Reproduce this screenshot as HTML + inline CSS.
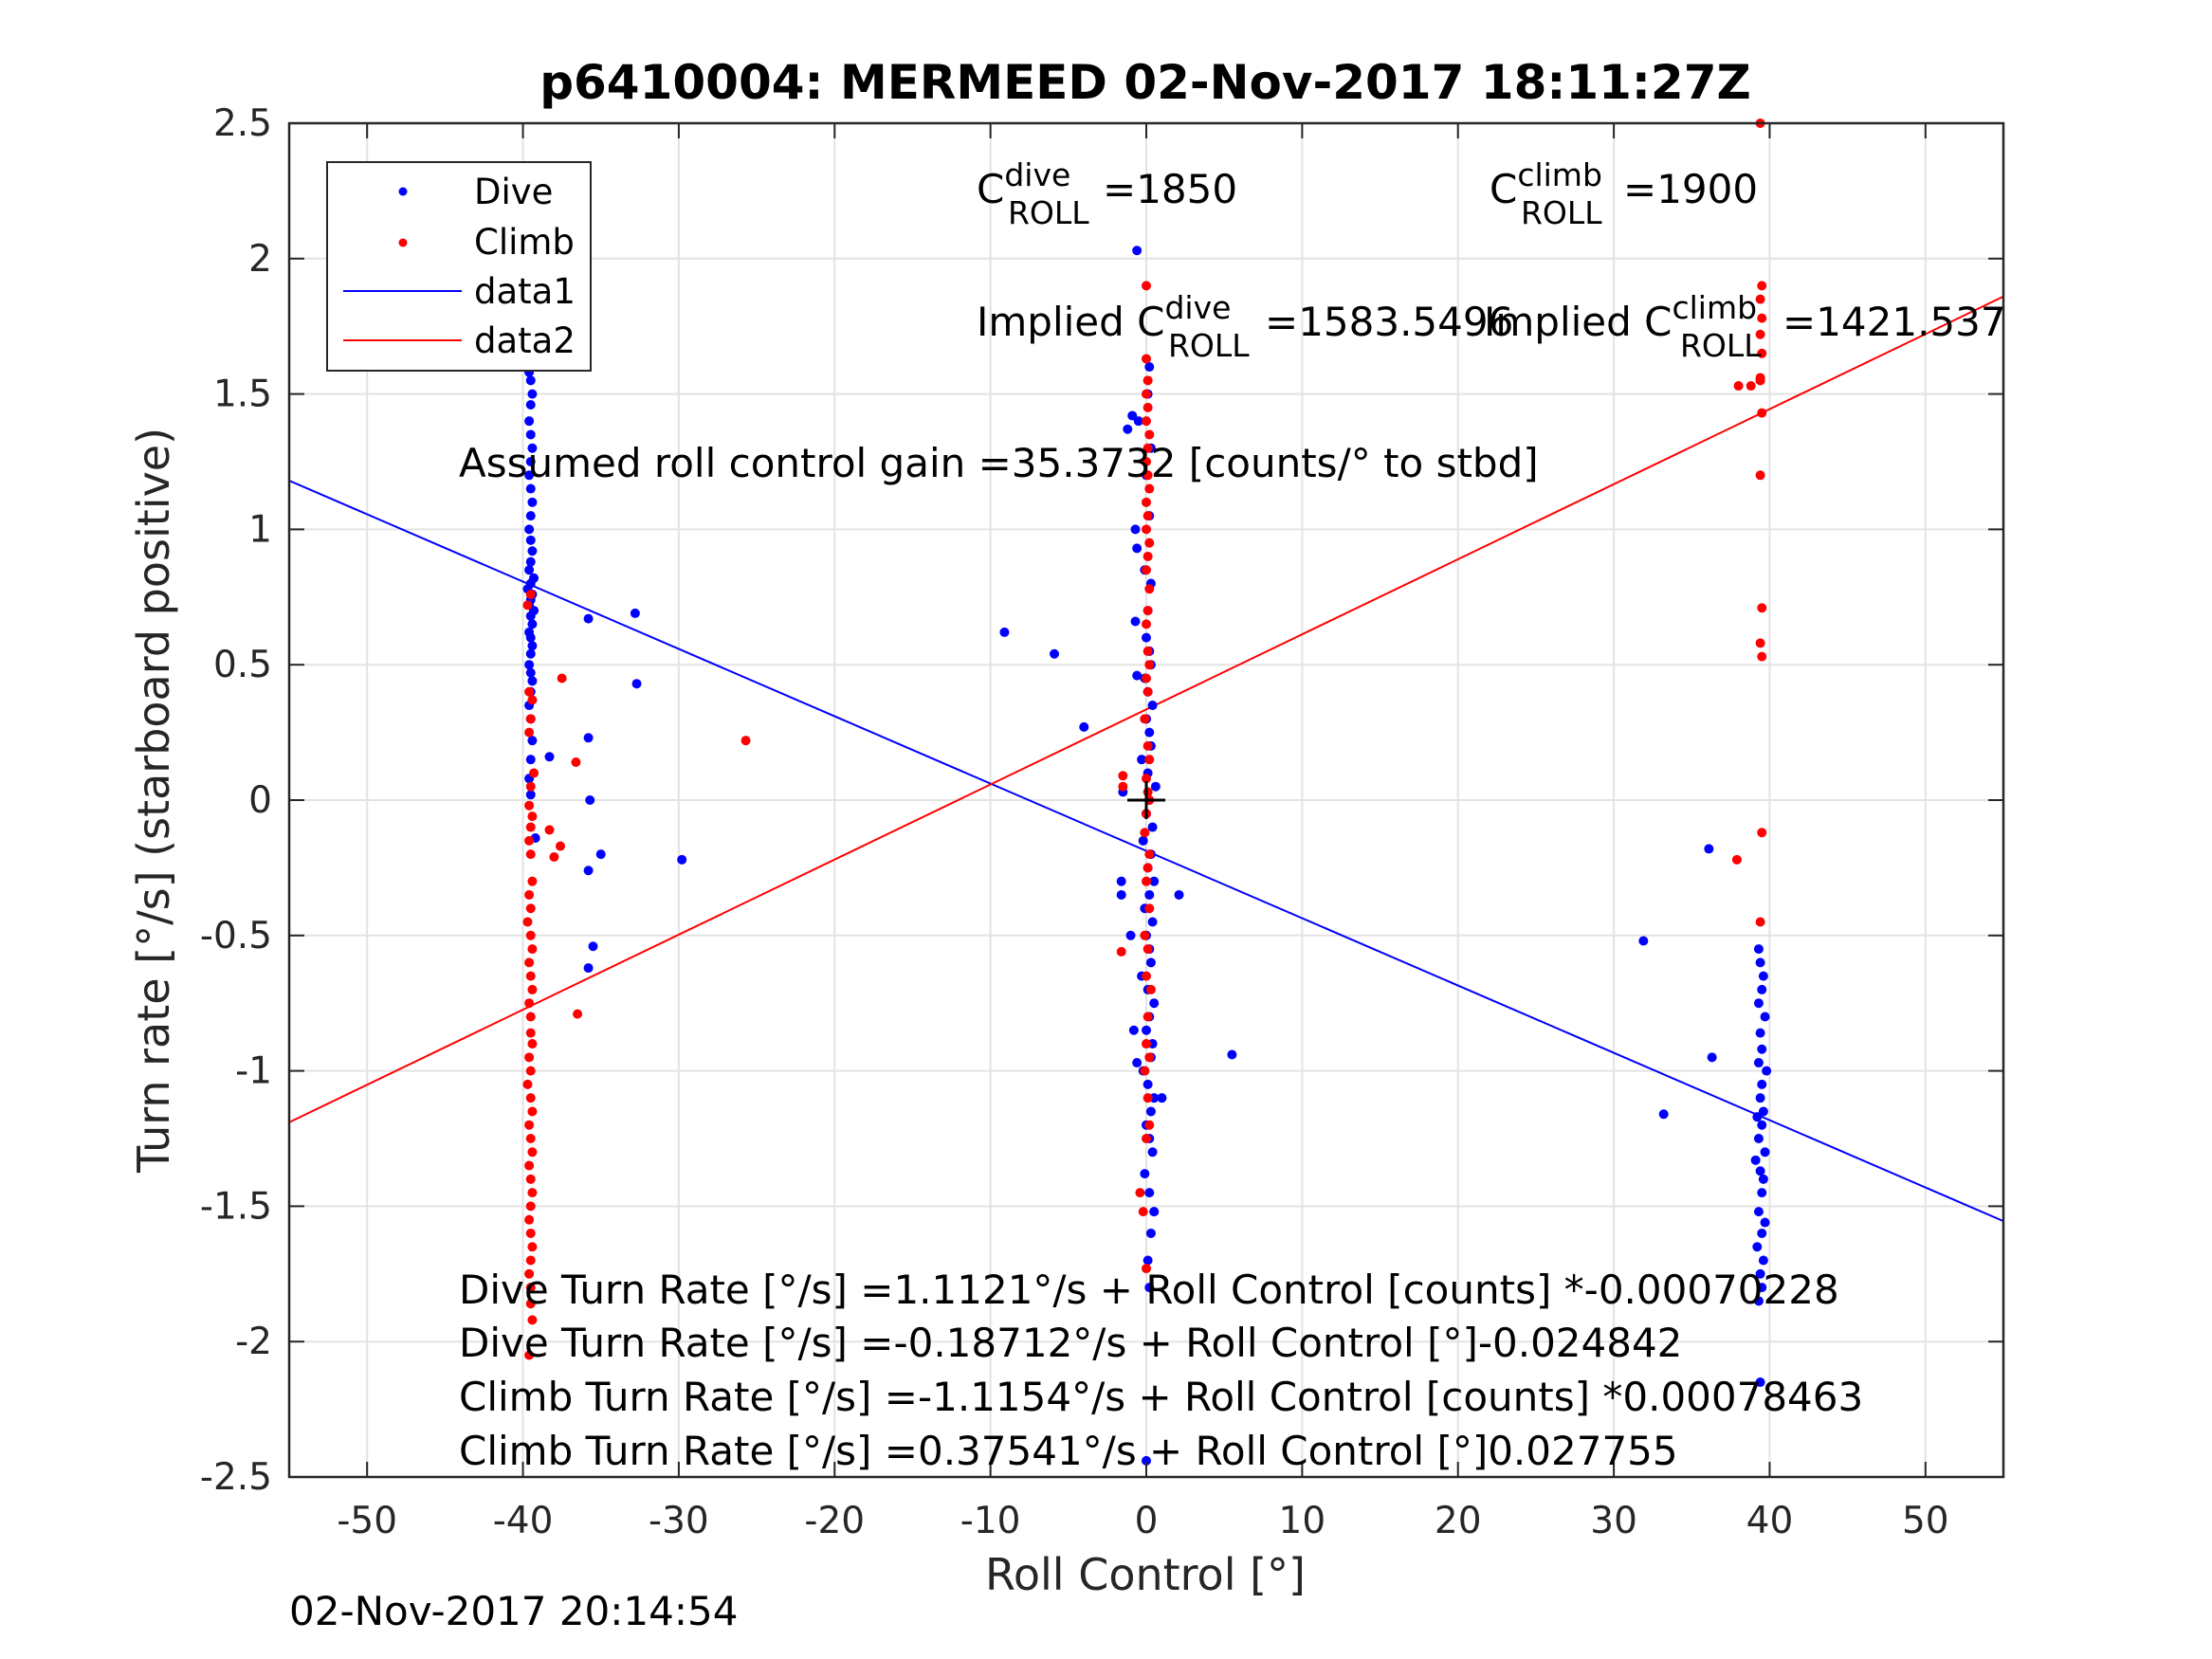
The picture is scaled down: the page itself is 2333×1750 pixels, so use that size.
<!DOCTYPE html>
<html><head><meta charset="utf-8"><style>
html,body{margin:0;padding:0;background:#fff;}
svg{display:block;font-family:"DejaVu Sans","Liberation Sans",sans-serif;}
</style></head><body>
<svg id="chart" width="2333" height="1750" viewBox="0 0 2333 1750" xmlns="http://www.w3.org/2000/svg">
<rect width="2333" height="1750" fill="#fff"/>
<g id="grid"></g>
<g id="lines"></g>
<g id="dots"></g>
<g id="axes"></g>
<text x="1208" y="104" text-anchor="middle" font-weight="bold" font-size="50" fill="#000">p6410004: MERMEED 02-Nov-2017 18:11:27Z</text>
<g font-size="42" fill="#000">
<text x="1030" y="214">C<tspan dy="-18" font-size="33">dive</tspan><tspan x="1063" dy="40" font-size="33">ROLL</tspan><tspan x="1163" dy="-22">=1850</tspan></text>
<text x="1571" y="214">C<tspan dy="-18" font-size="33">climb</tspan><tspan x="1604" dy="40" font-size="33">ROLL</tspan><tspan x="1712" dy="-22">=1900</tspan></text>
<text x="1030" y="354">Implied C<tspan dy="-18" font-size="33">dive</tspan><tspan x="1232" dy="40" font-size="33">ROLL</tspan><tspan x="1334" dy="-22">=1583.5496</tspan></text>
<text x="1565" y="354">Implied C<tspan dy="-18" font-size="33">climb</tspan><tspan x="1772" dy="40" font-size="33">ROLL</tspan><tspan x="1880" dy="-22">=1421.537</tspan></text>
<text x="484" y="503">Assumed roll control gain =35.3732 [counts/° to stbd]</text>
<text x="484" y="1375">Dive Turn Rate [°/s] =1.1121°/s + Roll Control [counts] *-0.00070228</text>
<text x="484" y="1431">Dive Turn Rate [°/s] =-0.18712°/s + Roll Control [°]-0.024842</text>
<text x="484" y="1488">Climb Turn Rate [°/s] =-1.1154°/s + Roll Control [counts] *0.00078463</text>
<text x="484" y="1545">Climb Turn Rate [°/s] =0.37541°/s + Roll Control [°]0.027755</text>
</g>
<g>
<rect x="345" y="171" width="278" height="220" fill="#fff" stroke="#262626" stroke-width="2"/>
<circle cx="425" cy="202" r="4.5" fill="#0000ff"/>
<text x="500" y="215" font-size="37" fill="#000">Dive</text>
<circle cx="425" cy="256" r="4.5" fill="#ff0000"/>
<text x="500" y="268" font-size="37" fill="#000">Climb</text>
<line x1="362" y1="307" x2="487" y2="307" stroke="#0000ff" stroke-width="2"/>
<text x="500" y="320" font-size="37" fill="#000">data1</text>
<line x1="362" y1="359" x2="487" y2="359" stroke="#ff0000" stroke-width="2"/>
<text x="500" y="372" font-size="37" fill="#000">data2</text>
</g>
<text transform="translate(178,844) rotate(-90)" text-anchor="middle" font-size="46" fill="#262626">Turn rate [°/s] (starboard positive)</text>
<text x="1208" y="1677" text-anchor="middle" font-size="46" fill="#262626">Roll Control [°]</text>
<text x="305" y="1714" font-size="42" fill="#000">02-Nov-2017 20:14:54</text>
</svg>
<script>
const xTicks = [-50,-40,-30,-20,-10,0,10,20,30,40,50];
const yTicks = [2.5,2,1.5,1,0.5,0,-0.5,-1,-1.5,-2,-2.5];
const yTickLabels = ["2.5","2","1.5","1","0.5","0","-0.5","-1","-1.5","-2","-2.5"];
const data1X = [-55, 55];
const data1Y = [1.18, -1.555];
const data2X = [-55, 55];
const data2Y = [-1.19, 1.86];
const diveX = [-39.6,-39.5,-39.4,-39.5,-39.6,-39.5,-39.4,-39.5,-39.6,-39.5,-39.4,-39.5,-39.6,-39.5,-39.4,-39.5,-39.6,-39.5,-39.4,-39.5,-39.6,-39.3,-39.5,-39.7,-39.4,-39.5,-39.6,-39.3,-39.5,-39.4,-39.6,-39.5,-39.4,-39.5,-39.6,-39.5,-39.4,-39.5,-39.6,-39.5,-39.4,-39.5,-39.6,-39.5,-39.2,
-35.8,-32.8,-32.7,-35.8,-38.3,-35.7,-35,-29.8,-35.8,-35.5,-35.8,-9.1,-5.9,-4,2.1,5.5,-0.9,-0.5,-1.2,-0.6,-0.7,-0.6,-0.7,-0.6,-1.5,-1.6,-1.6,-1,-0.8,-0.6,1,0.5,0,0.2,31.9,33.2,36.1,36.3,
0.1,0.3,0.5,0.2,-0.1,0.4,0.2,0.0,0.3,0.5,0.1,-0.2,0.3,0.4,0.0,0.2,0.5,0.1,-0.3,0.3,0.2,0.0,0.4,-0.1,0.2,0.5,0.1,0.3,-0.2,0.4,0.0,0.2,0.6,0.1,-0.3,0.3,0.2,0.0,0.4,0.1,-0.1,0.3,0.2,0.0,0.1,0.3,-0.1,0.2,0.0,0.3,0.1,0.2,
39.3,39.4,39.6,39.5,39.3,39.7,39.4,39.5,39.3,39.8,39.5,39.4,39.6,39.2,39.5,39.3,39.7,39.1,39.4,39.6,39.5,39.3,39.7,39.5,39.2,39.6,39.4,39.5,39.3,39.4];
const diveY = [2.08,1.88,1.84,1.62,1.58,1.55,1.5,1.46,1.4,1.35,1.3,1.25,1.2,1.15,1.1,1.05,1.0,0.96,0.92,0.88,0.85,0.82,0.8,0.78,0.76,0.74,0.72,0.7,0.68,0.65,0.62,0.6,0.57,0.54,0.5,0.47,0.44,0.4,0.35,0.3,0.22,0.15,0.08,0.02,-0.14,
0.67,0.69,0.43,0.23,0.16,0,-0.2,-0.22,-0.26,-0.54,-0.62,0.62,0.54,0.27,-0.35,-0.94,1.42,1.4,1.37,2.03,1.0,0.93,0.66,0.46,0.03,-0.3,-0.35,-0.5,-0.85,-0.97,-1.1,-1.52,-2.44,-1.8,-0.52,-1.16,-0.18,-0.95,
-1.7,-1.6,-1.52,-1.45,-1.38,-1.3,-1.25,-1.2,-1.15,-1.1,-1.05,-1,-0.95,-0.9,-0.85,-0.8,-0.75,-0.7,-0.65,-0.6,-0.55,-0.5,-0.45,-0.4,-0.35,-0.3,-0.25,-0.2,-0.15,-0.1,-0.05,0,0.05,0.1,0.15,0.2,0.25,0.3,0.35,0.4,0.45,0.5,0.55,0.6,0.7,0.8,0.85,1.05,1.2,1.3,1.5,1.6,
-0.55,-0.6,-0.65,-0.7,-0.75,-0.8,-0.86,-0.92,-0.97,-1.0,-1.05,-1.1,-1.15,-1.17,-1.2,-1.25,-1.3,-1.33,-1.37,-1.4,-1.45,-1.52,-1.56,-1.6,-1.65,-1.7,-1.75,-1.8,-1.85,-2.15];
const climbX = [-39.5,-39.7,-39.6,-39.4,-39.5,-39.6,-39.3,-39.5,-39.6,-39.4,-39.5,-39.6,-39.5,-39.4,-39.6,-39.5,-39.7,-39.5,-39.4,-39.6,-39.5,-39.4,-39.6,-39.5,-39.5,-39.4,-39.6,-39.5,-39.7,-39.5,-39.4,-39.6,-39.5,-39.4,-39.6,-39.5,-39.4,-39.5,-39.6,-39.5,-39.4,-39.5,-39.6,-39.5,-39.5,-39.4,-39.6,
-37.5,-25.7,-36.6,-38.3,-37.6,-38,-36.5,-1.5,-1.5,-1.6,-0.4,-0.2,0,38,38.8,37.9,39.4,39.4,
0.0,0.2,0.1,-0.1,0.2,0.0,0.1,0.3,0.0,0.1,-0.1,0.2,0.0,0.1,0.2,-0.1,0.0,0.2,0.1,0.0,0.2,0.1,-0.1,0.1,0.0,0.2,0.1,0.0,0.1,0.2,0.0,0.1,0.2,0.0,0.1,0.0,0.2,0.1,0.0,0.1,0.2,0.0,0.1,0.0,0.1,0.0,0.0,
39.4,39.5,39.4,39.5,39.4,39.5,39.4,39.5,39.4,39.5,39.4,39.5,39.5,39.4];
const climbY = [0.76,0.72,0.4,0.37,0.3,0.25,0.1,0.05,-0.02,-0.06,-0.1,-0.15,-0.2,-0.3,-0.35,-0.4,-0.45,-0.5,-0.55,-0.6,-0.65,-0.7,-0.75,-0.8,-0.86,-0.9,-0.95,-1.0,-1.05,-1.1,-1.15,-1.2,-1.25,-1.3,-1.35,-1.4,-1.45,-1.5,-1.55,-1.6,-1.65,-1.7,-1.75,-1.8,-1.86,-1.92,-2.05,
0.45,0.22,0.14,-0.11,-0.17,-0.21,-0.79,0.09,0.05,-0.56,-1.45,-1.52,-1.73,1.53,1.53,-0.22,1.56,1.55,
-1.25,-1.2,-1.1,-1.0,-0.95,-0.9,-0.8,-0.7,-0.65,-0.55,-0.5,-0.4,-0.3,-0.25,-0.2,-0.12,-0.05,0,0.03,0.08,0.15,0.2,0.3,0.4,0.45,0.5,0.55,0.65,0.7,0.78,0.85,0.9,0.95,1.0,1.05,1.1,1.15,1.2,1.25,1.3,1.35,1.4,1.45,1.5,1.55,1.63,1.9,
2.5,1.9,1.85,1.78,1.72,1.65,1.55,1.43,1.2,0.71,0.58,0.53,-0.12,-0.45];
const centerMark = [0, 0];

const NS = "http://www.w3.org/2000/svg";
const L = 305, R = 2113, T = 130, B = 1558;
const xMin = -55, xMax = 55, yMin = -2.5, yMax = 2.5;
function sx(v){ return L + (v - xMin) / (xMax - xMin) * (R - L); }
function sy(v){ return B - (v - yMin) / (yMax - yMin) * (B - T); }
function mk(tag, attrs, parent){ const e = document.createElementNS(NS, tag); for (const k in attrs) e.setAttribute(k, attrs[k]); parent.appendChild(e); return e; }

const grid = document.getElementById('grid');
const axes = document.getElementById('axes');
const lines = document.getElementById('lines');
const dots = document.getElementById('dots');

xTicks.forEach(function(v){
  const g = mk('line', {x1: sx(v), x2: sx(v), y1: T, y2: B, stroke: '#e3e3e3', 'stroke-width': 2}, grid);
  
  
  const t1 = mk('line', {x1: sx(v), x2: sx(v), y1: B, y2: B - 16, stroke: '#262626', 'stroke-width': 2}, axes);
  
  
  const t2 = mk('line', {x1: sx(v), x2: sx(v), y1: T, y2: T + 16, stroke: '#262626', 'stroke-width': 2}, axes);
  
  
  const lb = mk('text', {x: sx(v), y: 1617, 'text-anchor': 'middle', 'font-size': 39, fill: '#262626'}, axes);
  lb.textContent = String(v);
  
  
});
yTicks.forEach(function(v, i){
  const g = mk('line', {x1: L, x2: R, y1: sy(v), y2: sy(v), stroke: '#e3e3e3', 'stroke-width': 2}, grid);
  
  
  const t1 = mk('line', {x1: L, x2: L + 16, y1: sy(v), y2: sy(v), stroke: '#262626', 'stroke-width': 2}, axes);
  
  
  const t2 = mk('line', {x1: R, x2: R - 16, y1: sy(v), y2: sy(v), stroke: '#262626', 'stroke-width': 2}, axes);
  
  
  const lb = mk('text', {x: 287, y: sy(v) + 13, 'text-anchor': 'end', 'font-size': 39, fill: '#262626'}, axes);
  lb.textContent = yTickLabels[i];
  
  
});
const frame = mk('rect', {x: L, y: T, width: R - L, height: B - T, fill: 'none', stroke: '#262626', 'stroke-width': 2.5}, axes);



const l1 = mk('line', {x1: sx(data1X[0]), y1: sy(data1Y[0]), x2: sx(data1X[1]), y2: sy(data1Y[1]), stroke: '#0000ff', 'stroke-width': 2}, lines);


const l2 = mk('line', {x1: sx(data2X[0]), y1: sy(data2Y[0]), x2: sx(data2X[1]), y2: sy(data2Y[1]), stroke: '#ff0000', 'stroke-width': 2}, lines);



diveX.forEach(function(x, i){
  const c = mk('circle', {cx: sx(x), cy: sy(diveY[i]), r: 5, fill: '#0000ff'}, dots);
  
  
});
climbX.forEach(function(x, i){
  const c = mk('circle', {cx: sx(x), cy: sy(climbY[i]), r: 5, fill: '#ff0000'}, dots);
  
  
});
const cx = sx(centerMark[0]), cy = sy(centerMark[1]);
const p = mk('path', {d: 'M' + (cx - 20) + ' ' + cy + 'H' + (cx + 20) + 'M' + cx + ' ' + (cy - 20) + 'V' + (cy + 20), stroke: '#000', 'stroke-width': 3}, dots);


</script>
</body></html>
